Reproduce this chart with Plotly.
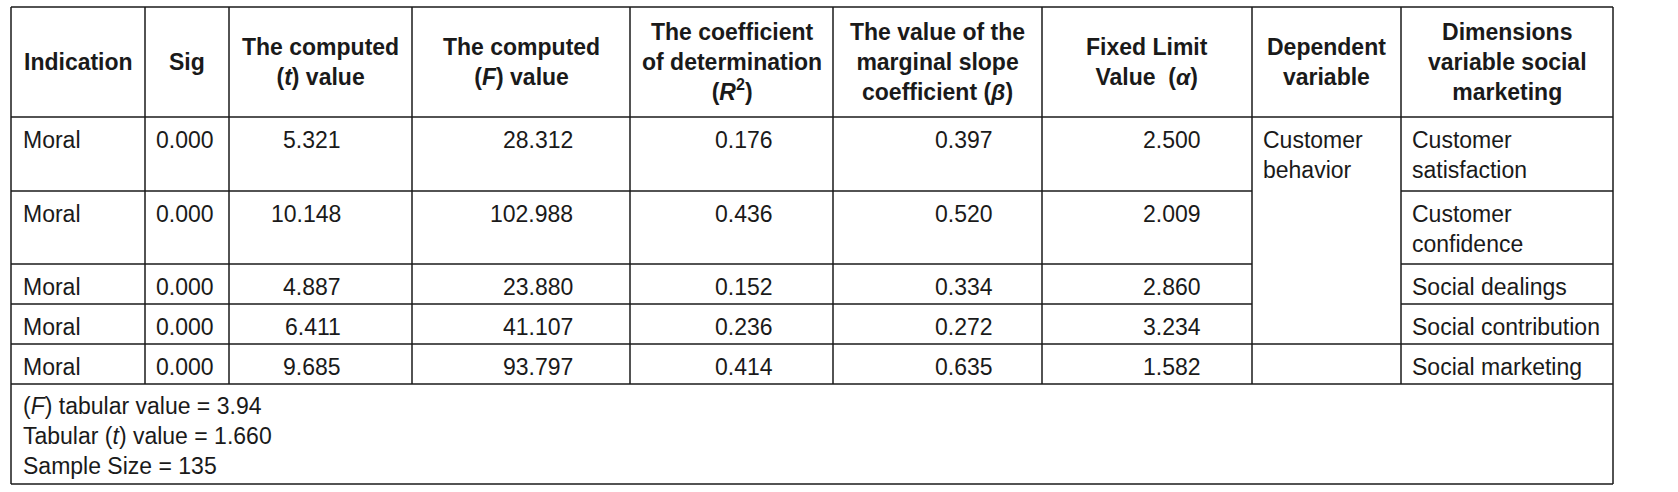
import plotly.graph_objects as go

# ---------------- data ----------------
headers = [
    "Indication",
    "Sig",
    "The computed<br>(<i>t</i>) value",
    "The computed<br>(<i>F</i>) value",
    "The coefficient<br>of determination<br>(<i>R</i><sup>2</sup>)",
    "The value of the<br>marginal slope<br>coefficient (<i>β</i>)",
    "Fixed Limit<br>Value  (<i>α</i>)",
    "Dependent<br>variable",
    "Dimensions<br>variable social<br>marketing",
]
indication = ["Moral", "Moral", "Moral", "Moral", "Moral"]
sig = ["0.000", "0.000", "0.000", "0.000", "0.000"]
t_values = ["5.321", "10.148", "4.887", "6.411", "9.685"]
f_values = ["28.312", "102.988", "23.880", "41.107", "93.797"]
r2_values = ["0.176", "0.436", "0.152", "0.236", "0.414"]
beta_values = ["0.397", "0.520", "0.334", "0.272", "0.635"]
alpha_values = ["2.500", "2.009", "2.860", "3.234", "1.582"]
dependent_variable = "Customer<br>behavior"
dimensions = [
    "Customer<br>satisfaction",
    "Customer<br>confidence",
    "Social dealings",
    "Social contribution",
    "Social marketing",
]
footer_notes = [
    "(<i>F</i>) tabular value = 3.94",
    "Tabular (<i>t</i>) value = 1.660",
    "Sample Size = 135",
]

# ---------------- layout constants ----------------
W, H = 1678, 492
col_edges = [11, 145, 229, 412, 630, 833, 1042, 1252, 1401, 1613]
row_edges = [7, 117, 191, 264, 304, 344, 384, 484]   # header, 5 rows, footer
num_right = [215, 342, 574, 774, 994, 1202]          # right edge of numeric text (cols 1..6)
merged_col = 7                                        # dependent variable column
merged_rows = (0, 3)                                  # body rows merged in that column
pad_left = 10
FONT = "Liberation Sans, Arial, sans-serif"
FS = 23
TXT = "#1a1a1a"
LINE = "#1a1a1a"
LW = 1.5

fig = go.Figure()
fig.add_trace(go.Scatter(x=[0, W], y=[0, H], mode="markers",
                         marker=dict(opacity=0), hoverinfo="skip", showlegend=False))

shapes = []
def hline(y, x0, x1):
    shapes.append(dict(type="line", xref="x", yref="y", x0=x0, x1=x1, y0=y, y1=y,
                       line=dict(color=LINE, width=LW)))
def vline(x, y0, y1):
    shapes.append(dict(type="line", xref="x", yref="y", x0=x, x1=x, y0=y0, y1=y1,
                       line=dict(color=LINE, width=LW)))

L, R = col_edges[0], col_edges[-1]
body_top, body_bot = row_edges[1], row_edges[-2]
for i, y in enumerate(row_edges):
    body_idx = i - 2  # index of body row that ends at this line
    if merged_rows[0] <= body_idx < merged_rows[1]:
        hline(y, L, col_edges[merged_col])
        hline(y, col_edges[merged_col + 1], R)
    else:
        hline(y, L, R)
vline(L, row_edges[0], row_edges[-1])
vline(R, row_edges[0], row_edges[-1])
for x in col_edges[1:-1]:
    vline(x, row_edges[0], body_bot)

ann = []
def text(x, y, s, xanchor, yanchor, align="left"):
    ann.append(dict(x=x, y=y, xref="x", yref="y", text=s, showarrow=False,
                    xanchor=xanchor, yanchor=yanchor, align=align, borderpad=0,
                    font=dict(family=FONT, size=FS, color=TXT)))

# header
hy = (row_edges[0] + row_edges[1]) / 2
for c, h in enumerate(headers):
    cx = (col_edges[c] + col_edges[c + 1]) / 2
    text(cx, hy, "<b>" + h + "</b>", "center", "middle", "center")

# body
num_cols = [sig, t_values, f_values, r2_values, beta_values, alpha_values]
top_off = 9
for r in range(len(indication)):
    ty = row_edges[r + 1] + top_off
    text(col_edges[0] + pad_left + 1, ty, indication[r], "left", "top")
    for k, col in enumerate(num_cols):
        text(num_right[k], ty, col[r], "right", "top", "right")
    text(col_edges[8] + pad_left, ty, dimensions[r], "left", "top")
text(col_edges[merged_col] + pad_left, row_edges[1] + top_off, dependent_variable, "left", "top")

# footer
text(col_edges[0] + pad_left + 1, row_edges[-2] + 8, "<br>".join(footer_notes), "left", "top")

fig.update_layout(
    width=W, height=H, margin=dict(l=0, r=0, t=0, b=0),
    paper_bgcolor="white", plot_bgcolor="white",
    xaxis=dict(range=[0, W], visible=False, fixedrange=True),
    yaxis=dict(range=[H, 0], visible=False, fixedrange=True),
    shapes=shapes, annotations=ann, showlegend=False,
)
fig.write_html("out.html", config={"displayModeBar": False},
               post_script="document.body.style.margin='0';document.body.style.overflow='hidden';")
